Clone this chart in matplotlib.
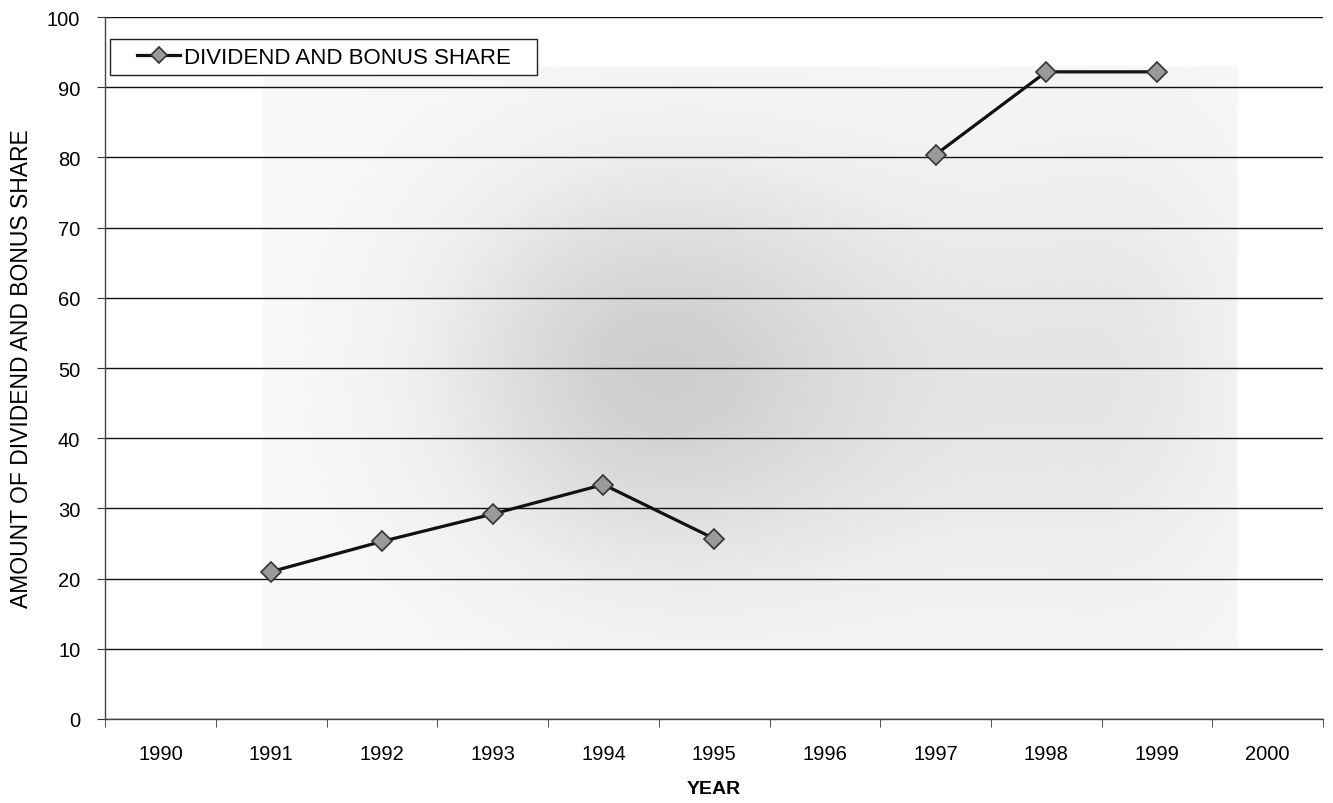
import matplotlib.pyplot as plt
import numpy as np
from matplotlib.patches import Rectangle

plt.rcParams["font.family"] = ["Liberation Sans", "DejaVu Sans"]

years = ["1990", "1991", "1992", "1993", "1994", "1995",
         "1996", "1997", "1998", "1999", "2000"]
# no value for 1990, 1996 and 2000 (gap in the line)
dividend_bonus = [np.nan, 21.0, 25.3, 29.2, 33.4, 25.7,
                  np.nan, 80.4, 92.2, 92.2, np.nan]

fig = plt.figure(figsize=(13.33, 8.04), dpi=100)
ax = fig.add_axes([0.079, 0.1045, 0.9135, 0.873])

x = np.arange(len(years))
ax.set_xlim(-0.5, len(years) - 0.5)
ax.set_ylim(0, 100)

# soft grey haze of the scanned page behind the plot
gy, gx = np.mgrid[0:1:200j, 0:1:300j]
haze = (0.45 * np.exp(-(((gx - 0.42) / 0.17) ** 2 + ((gy - 0.50) / 0.30) ** 2))
        + 0.30 * np.exp(-(((gx - 0.62) / 0.22) ** 2 + ((gy - 0.48) / 0.35) ** 2))
        + 0.20 * np.exp(-(((gx - 0.85) / 0.12) ** 2 + ((gy - 0.50) / 0.40) ** 2)))
mask = ((gx > 0.13) & (gx < 0.93) & (gy > 0.10) & (gy < 0.93)).astype(float)
haze = np.clip(haze * mask + 0.12 * mask, 0, 1)
ax.imshow(haze, extent=(-0.5, len(years) - 0.5, 0, 100), origin="lower",
          cmap="Greys", vmin=0, vmax=2.4, aspect="auto", zorder=0,
          interpolation="bilinear")

ax.set_yticks(np.arange(0, 101, 10))
ax.yaxis.grid(True, color="#111111", lw=1.0)
ax.set_axisbelow(True)

ax.set_xticks(x)
ax.set_xticklabels(years)
ax.set_xticks(np.arange(-0.5, len(years), 1.0), minor=True)
ax.tick_params(axis="x", which="major", length=0, pad=18, labelsize=14.5)
ax.tick_params(axis="x", which="minor", length=6, direction="out", color="#333333")
ax.tick_params(axis="y", length=6, direction="out", pad=12, labelsize=14.5,
               color="#333333")

for side in ["top", "right"]:
    ax.spines[side].set_visible(False)
for side in ["left", "bottom"]:
    ax.spines[side].set_color("#444444")
    ax.spines[side].set_linewidth(1.0)

ax.plot(x, dividend_bonus, color="#111111", lw=2.3, marker="D", markersize=10,
        markerfacecolor="#9a9a9a", markeredgecolor="#333333", markeredgewidth=1.2,
        label="DIVIDEND AND BONUS SHARE", zorder=3)

ax.set_xlabel("YEAR", fontsize=14, fontweight="bold", labelpad=12)
ax.set_ylabel("AMOUNT OF DIVIDEND AND BONUS SHARE", fontsize=16.5, labelpad=10)

# legend box drawn separately so it can be wider than the entry itself
ax.add_patch(Rectangle((0.0041, 0.9174), 0.3506, 0.0513, transform=ax.transAxes,
                       facecolor="white", edgecolor="#222222", lw=1.0, zorder=4))
leg = ax.legend(loc="center left", bbox_to_anchor=(0.026, 0.943), fontsize=16,
                frameon=False, handlelength=1.95, handletextpad=0.15,
                borderpad=0.0, borderaxespad=0.0, markerscale=0.8)
leg.set_zorder(5)

fig.savefig("out.png", dpi=100, facecolor="white")
